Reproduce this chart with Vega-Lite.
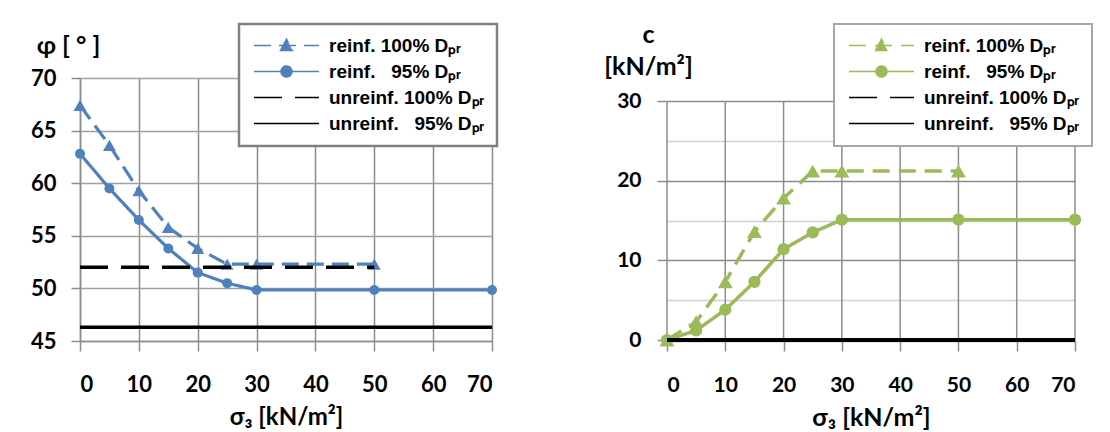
{
  "$schema": "https://vega.github.io/schema/vega-lite/v6.json",
  "padding": {"left": 30, "top": 22, "right": 5, "bottom": 0},
  "background": "white",
  "spacing": 104,
  "config": {"view": {"stroke": null}, "font": "Lato"},
  "resolve": {
    "scale": {"color": "independent", "strokeDash": "independent", "x": "independent", "y": "independent"},
    "legend": {"color": "independent"}
  },
  "datasets": {
    "phi": [
      {"series": "reinf. 100% Dₚᵣ", "s3": 0, "val": 67.4},
      {"series": "reinf. 100% Dₚᵣ", "s3": 5, "val": 63.6},
      {"series": "reinf. 100% Dₚᵣ", "s3": 10, "val": 59.3},
      {"series": "reinf. 100% Dₚᵣ", "s3": 15, "val": 55.8},
      {"series": "reinf. 100% Dₚᵣ", "s3": 20, "val": 53.8},
      {"series": "reinf. 100% Dₚᵣ", "s3": 25, "val": 52.3},
      {"series": "reinf. 100% Dₚᵣ", "s3": 30, "val": 52.3},
      {"series": "reinf. 100% Dₚᵣ", "s3": 50, "val": 52.3},
      {"series": "reinf.\u00a0\u00a0\u00a095% Dₚᵣ", "s3": 0, "val": 62.8},
      {"series": "reinf.\u00a0\u00a0\u00a095% Dₚᵣ", "s3": 5, "val": 59.5},
      {"series": "reinf.\u00a0\u00a0\u00a095% Dₚᵣ", "s3": 10, "val": 56.5},
      {"series": "reinf.\u00a0\u00a0\u00a095% Dₚᵣ", "s3": 15, "val": 53.8},
      {"series": "reinf.\u00a0\u00a0\u00a095% Dₚᵣ", "s3": 20, "val": 51.5},
      {"series": "reinf.\u00a0\u00a0\u00a095% Dₚᵣ", "s3": 25, "val": 50.5},
      {"series": "reinf.\u00a0\u00a0\u00a095% Dₚᵣ", "s3": 30, "val": 49.85},
      {"series": "reinf.\u00a0\u00a0\u00a095% Dₚᵣ", "s3": 50, "val": 49.85},
      {"series": "reinf.\u00a0\u00a0\u00a095% Dₚᵣ", "s3": 70, "val": 49.85},
      {"series": "unreinf. 100% Dₚᵣ", "s3": 0, "val": 52.0},
      {"series": "unreinf. 100% Dₚᵣ", "s3": 50, "val": 52.0},
      {"series": "unreinf.\u00a0\u00a0\u00a095% Dₚᵣ", "s3": 0, "val": 46.3},
      {"series": "unreinf.\u00a0\u00a0\u00a095% Dₚᵣ", "s3": 70, "val": 46.3}
    ],
    "c": [
      {"series": "reinf. 100% Dₚᵣ", "s3": 0, "val": 0},
      {"series": "reinf. 100% Dₚᵣ", "s3": 5, "val": 2.3},
      {"series": "reinf. 100% Dₚᵣ", "s3": 10, "val": 7.3},
      {"series": "reinf. 100% Dₚᵣ", "s3": 15, "val": 13.6},
      {"series": "reinf. 100% Dₚᵣ", "s3": 20, "val": 17.8},
      {"series": "reinf. 100% Dₚᵣ", "s3": 25, "val": 21.2},
      {"series": "reinf. 100% Dₚᵣ", "s3": 30, "val": 21.2},
      {"series": "reinf. 100% Dₚᵣ", "s3": 50, "val": 21.2},
      {"series": "reinf.\u00a0\u00a0\u00a095% Dₚᵣ", "s3": 0, "val": 0},
      {"series": "reinf.\u00a0\u00a0\u00a095% Dₚᵣ", "s3": 5, "val": 1.2},
      {"series": "reinf.\u00a0\u00a0\u00a095% Dₚᵣ", "s3": 10, "val": 3.8},
      {"series": "reinf.\u00a0\u00a0\u00a095% Dₚᵣ", "s3": 15, "val": 7.3},
      {"series": "reinf.\u00a0\u00a0\u00a095% Dₚᵣ", "s3": 20, "val": 11.4},
      {"series": "reinf.\u00a0\u00a0\u00a095% Dₚᵣ", "s3": 25, "val": 13.5},
      {"series": "reinf.\u00a0\u00a0\u00a095% Dₚᵣ", "s3": 30, "val": 15.1},
      {"series": "reinf.\u00a0\u00a0\u00a095% Dₚᵣ", "s3": 50, "val": 15.1},
      {"series": "reinf.\u00a0\u00a0\u00a095% Dₚᵣ", "s3": 70, "val": 15.1},
      {"series": "unreinf. 100% Dₚᵣ", "s3": 0, "val": 0},
      {"series": "unreinf. 100% Dₚᵣ", "s3": 50, "val": 0},
      {"series": "unreinf.\u00a0\u00a0\u00a095% Dₚᵣ", "s3": 0, "val": 0},
      {"series": "unreinf.\u00a0\u00a0\u00a095% Dₚᵣ", "s3": 70, "val": 0}
    ],
    "xgrid": [
      {"s3": 0, "lo": 0, "hi": 30}, {"s3": 10, "lo": 0, "hi": 30}, {"s3": 20, "lo": 0, "hi": 30},
      {"s3": 30, "lo": 0, "hi": 30}, {"s3": 40, "lo": 0, "hi": 30}, {"s3": 50, "lo": 0, "hi": 30},
      {"s3": 60, "lo": 0, "hi": 30}, {"s3": 70, "lo": 0, "hi": 30}
    ]
  },
  "hconcat": [
    {
      "width": 412,
      "height": 263,
      "data": {"name": "phi"},
      "encoding": {
        "x": {
          "field": "s3", "type": "quantitative",
          "scale": {"domain": [0, 70], "nice": false},
          "axis": {
            "values": [0, 10, 20, 30, 40, 50, 60, 70],
            "title": "σ₃ [kN/m²]",
            "titleBaseline": "alphabetic", "titleY": 83,
            "titleFont": "Lato", "titleFontSize": 24, "titleFontWeight": "bold", "titleColor": "black",
            "labelFont": "Lato", "labelFontSize": 22, "labelFontWeight": "bold", "labelColor": "black",
            "labelPadding": 23, "tickSize": 10, "tickWidth": 1.5, "tickColor": "#8c8c8c",
            "domainColor": "#8c8c8c", "domainWidth": 1.5,
            "grid": true, "gridColor": "#8c8c8c", "gridWidth": 1.5
          }
        },
        "y": {
          "field": "val", "type": "quantitative",
          "scale": {"domain": [45, 70], "nice": false, "zero": false},
          "axis": {
            "values": [45, 50, 55, 60, 65, 70],
            "title": "φ [ ° ]",
            "titleAngle": 0, "titleAlign": "center", "titleBaseline": "alphabetic",
            "titleX": -12, "titleY": -25,
            "titleFont": "Lato", "titleFontSize": 25, "titleFontWeight": "bold", "titleColor": "black",
            "labelFont": "Lato", "labelFontSize": 22, "labelFontWeight": "bold", "labelColor": "black",
            "labelPadding": 15, "tickSize": 9, "tickWidth": 1.5, "tickColor": "#8c8c8c",
            "domainColor": "#8c8c8c", "domainWidth": 1.5,
            "grid": true, "gridColor": "#a0a0a0", "gridWidth": 1.5
          }
        }
      },
      "layer": [
        {
          "transform": [{"filter": "indexof(datum.series, 'unreinf') < 0"}],
          "mark": {"type": "line", "strokeWidth": 3.2},
          "encoding": {
            "color": {
              "field": "series", "type": "nominal",
              "scale": {
                "domain": ["reinf. 100% Dₚᵣ", "reinf.\u00a0\u00a0\u00a095% Dₚᵣ", "unreinf. 100% Dₚᵣ", "unreinf.\u00a0\u00a0\u00a095% Dₚᵣ"],
                "range": ["#4F81BD", "#4F81BD", "#000000", "#000000"]
              },
              "legend": {
                "orient": "none", "legendX": 159, "legendY": -54,
                "title": null, "direction": "vertical",
                "padding": 12, "rowPadding": 6,
                "labelFont": "Liberation Sans", "labelFontSize": 19, "labelFontWeight": "bold", "labelColor": "black",
                "labelLimit": 400, "labelOffset": 59,
                "symbolSize": 100, "symbolStrokeWidth": 1.5,
                "strokeColor": "#808080", "fillColor": "white",
                "encode": {
                  "symbols": {
                    "update": {
                      "shape": {"signal": "datum.index == 0 ? 'M-1.3,0L11.7,0M4.0,1L5.2,-1.3L6.4,1Z' : datum.index == 1 ? 'M-1.3,0L11.7,0M6.3,0A1.1,1.1,0,1,1,4.1,0A1.1,1.1,0,1,1,6.3,0Z' : 'M-1.3,0L11.7,0'"},
                      "strokeDash": {"signal": "datum.index == 0 ? [7,5] : datum.index == 2 ? [11,6] : [1,0]"},
                      "fill": {"signal": "datum.index < 2 ? '#4F81BD' : 'transparent'"},
                      "stroke": {"signal": "datum.index < 2 ? '#4F81BD' : '#000000'"},
                      "strokeWidth": {"value": 1.5},
                      "opacity": {"value": 1}
                    }
                  },
                  "legend": {"update": {"strokeWidth": {"value": 2.5}}}
                }
              }
            },
            "strokeDash": {
              "field": "series", "type": "nominal",
              "scale": {
                "domain": ["reinf. 100% Dₚᵣ", "reinf.\u00a0\u00a0\u00a095% Dₚᵣ", "unreinf. 100% Dₚᵣ", "unreinf.\u00a0\u00a0\u00a095% Dₚᵣ"],
                "range": [[17, 8], [1, 0], [28, 13], [1, 0]]
              },
              "legend": null
            }
          }
        },
        {
          "transform": [{"filter": "datum.series == 'reinf. 100% Dₚᵣ'"}],
          "mark": {"type": "point", "filled": true, "opacity": 1, "color": "#4F81BD", "size": 165, "shape": "triangle-up"}
        },
        {
          "transform": [{"filter": "datum.series == 'reinf.\u00a0\u00a0\u00a095% Dₚᵣ'"}],
          "mark": {"type": "point", "filled": true, "opacity": 1, "color": "#4F81BD", "size": 100, "shape": "circle"}
        },
        {
          "transform": [{"filter": "indexof(datum.series, 'unreinf') >= 0"}],
          "mark": {"type": "line", "strokeWidth": 3.5},
          "encoding": {
            "color": {"field": "series", "type": "nominal"},
            "strokeDash": {"field": "series", "type": "nominal", "legend": null}
          }
        }
      ]
    },
    {
      "width": 408,
      "height": 263,
      "data": {"name": "c"},
      "encoding": {
        "x": {
          "field": "s3", "type": "quantitative",
          "scale": {"domain": [0, 70], "nice": false},
          "axis": {
            "values": [0, 10, 20, 30, 40, 50, 60, 70],
            "title": "σ₃ [kN/m²]",
            "titleBaseline": "alphabetic", "titleY": 84,
            "titleFont": "Lato", "titleFontSize": 25, "titleFontWeight": "bold", "titleColor": "black",
            "labelFont": "Lato", "labelFontSize": 21, "labelFontWeight": "bold", "labelColor": "black",
            "labelPadding": 23, "tickSize": 10, "tickWidth": 1.5, "tickColor": "#8c8c8c",
            "domainColor": "#8c8c8c", "domainWidth": 1.5,
            "grid": false
          }
        },
        "y": {
          "field": "val", "type": "quantitative",
          "title": ["c", "[kN/m²]"],
          "scale": {"domain": [0, 30], "nice": false, "range": [262, 23]},
          "axis": {
            "values": [0, 5, 10, 15, 20, 25, 30],
            "labelExpr": "datum.value % 10 === 0 ? datum.label : ''",
            "titleAngle": 0, "titleAlign": "center", "titleBaseline": "alphabetic",
            "titleX": -19, "titleY": -36, "titleLineHeight": 32,
            "titleFont": "Lato", "titleFontSize": 25, "titleFontWeight": "bold", "titleColor": "black",
            "labelFont": "Lato", "labelFontSize": 21, "labelFontWeight": "bold", "labelColor": "black",
            "labelPadding": 16, "tickSize": 10, "tickWidth": 1.5, "tickColor": "#8c8c8c",
            "tickOpacity": {"condition": {"test": "datum.value % 10 !== 0", "value": 0}, "value": 1},
            "domain": false,
            "grid": true, "gridWidth": 1.5,
            "gridColor": {"condition": {"test": "datum.value % 10 !== 0", "value": "#d0d0d0"}, "value": "#8c8c8c"}
          }
        }
      },
      "layer": [
        {
          "data": {"name": "xgrid"},
          "mark": {"type": "rule", "color": "#8c8c8c", "strokeWidth": 1.5},
          "encoding": {
            "x": {"field": "s3", "type": "quantitative"},
            "y": {"field": "lo", "type": "quantitative", "title": ["c", "[kN/m²]"]},
            "y2": {"field": "hi"}
          }
        },
        {
          "transform": [{"filter": "indexof(datum.series, 'unreinf') < 0"}],
          "mark": {"type": "line", "strokeWidth": 3.5},
          "encoding": {
            "color": {
              "field": "series", "type": "nominal",
              "scale": {
                "domain": ["reinf. 100% Dₚᵣ", "reinf.\u00a0\u00a0\u00a095% Dₚᵣ", "unreinf. 100% Dₚᵣ", "unreinf.\u00a0\u00a0\u00a095% Dₚᵣ"],
                "range": ["#9BBB59", "#9BBB59", "#000000", "#000000"]
              },
              "legend": {
                "orient": "none", "legendX": 167, "legendY": -54,
                "title": null, "direction": "vertical",
                "padding": 12, "rowPadding": 6,
                "labelFont": "Liberation Sans", "labelFontSize": 19, "labelFontWeight": "bold", "labelColor": "black",
                "labelLimit": 400, "labelOffset": 59,
                "symbolSize": 100, "symbolStrokeWidth": 1.5,
                "strokeColor": "#a6a6a6", "fillColor": "white",
                "encode": {
                  "symbols": {
                    "update": {
                      "shape": {"signal": "datum.index == 0 ? 'M-1.3,0L11.7,0M4.0,1L5.2,-1.3L6.4,1Z' : datum.index == 1 ? 'M-1.3,0L11.7,0M6.3,0A1.1,1.1,0,1,1,4.1,0A1.1,1.1,0,1,1,6.3,0Z' : 'M-1.3,0L11.7,0'"},
                      "strokeDash": {"signal": "datum.index == 0 ? [7,5] : datum.index == 2 ? [11,6] : [1,0]"},
                      "fill": {"signal": "datum.index < 2 ? '#9BBB59' : 'transparent'"},
                      "stroke": {"signal": "datum.index < 2 ? '#9BBB59' : '#000000'"},
                      "strokeWidth": {"value": 1.5},
                      "opacity": {"value": 1}
                    }
                  },
                  "legend": {"update": {"strokeWidth": {"value": 2}}}
                }
              }
            },
            "strokeDash": {
              "field": "series", "type": "nominal",
              "scale": {
                "domain": ["reinf. 100% Dₚᵣ", "reinf.\u00a0\u00a0\u00a095% Dₚᵣ", "unreinf. 100% Dₚᵣ", "unreinf.\u00a0\u00a0\u00a095% Dₚᵣ"],
                "range": [[17, 9], [1, 0], [28, 13], [1, 0]]
              },
              "legend": null
            }
          }
        },
        {
          "transform": [{"filter": "datum.series == 'reinf. 100% Dₚᵣ'"}],
          "mark": {"type": "point", "filled": true, "opacity": 1, "color": "#9BBB59", "size": 220, "shape": "triangle-up"}
        },
        {
          "transform": [{"filter": "datum.series == 'reinf.\u00a0\u00a0\u00a095% Dₚᵣ'"}],
          "mark": {"type": "point", "filled": true, "opacity": 1, "color": "#9BBB59", "size": 150, "shape": "circle"}
        },
        {
          "transform": [{"filter": "indexof(datum.series, 'unreinf') >= 0"}],
          "mark": {"type": "line", "strokeWidth": 4},
          "encoding": {
            "color": {"field": "series", "type": "nominal"},
            "strokeDash": {"field": "series", "type": "nominal", "legend": null}
          }
        }
      ]
    }
  ]
}
